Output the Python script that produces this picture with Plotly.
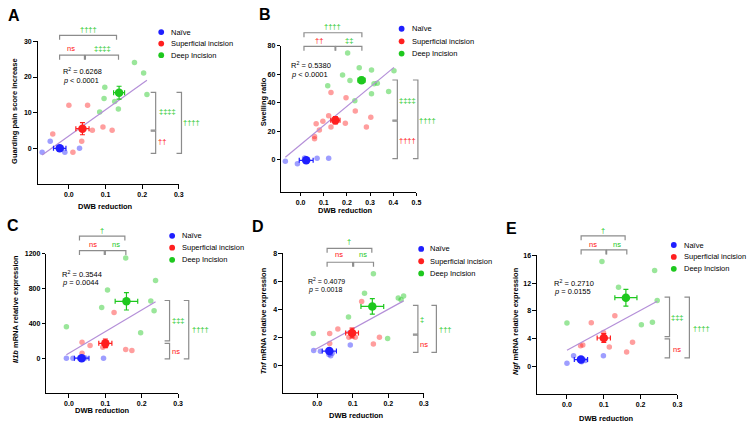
import numpy as np
import plotly.graph_objects as go

W, H = 753, 424

# ---------------- data ----------------
GROUP_NAMES = ["Naïve", "Superficial incision", "Deep Incision"]

# Panel A: guarding pain score increase vs DWB reduction
A_NAIVE_X = [-0.073, -0.051, -0.011, 0.029, -0.020]
A_NAIVE_Y = [-1.1, 2.0, -1.1, 0.0, 0.0]
A_SUP_X = [-0.044, 0.0, 0.011, 0.035, 0.051, 0.064, 0.093, 0.118]
A_SUP_Y = [4.0, 12.1, -1.1, 2.0, 12.1, 5.1, 6.0, 5.1]
A_DEEP_X = [0.084, 0.096, 0.098, 0.125, 0.135, 0.179, 0.204, 0.213]
A_DEEP_Y = [10.2, 14.0, 17.1, 13.1, 11.0, 24.1, 21.1, 15.1]
A_MEAN_X = [-0.025, 0.037, 0.137]
A_MEAN_Y = [0.0, 5.5, 15.6]
A_ERR_X = [0.017, 0.018, 0.015]
A_ERR_Y = [0.4, 1.7, 1.8]

# Panel B: swelling ratio
B_NAIVE_X = [-0.066, -0.014, 0.017, 0.071, 0.121]
B_NAIVE_Y = [-1.2, -3.0, 1.2, 0.9, 0.9]
B_SUP_X = [0.131, 0.196, 0.121, 0.096, 0.067, 0.081, 0.060, 0.060, 0.131, 0.193, 0.236, 0.303, 0.284]
B_SUP_Y = [47.2, 43.5, 30.9, 27.0, 25.3, 20.9, 16.3, 14.7, 23.0, 25.6, 34.2, 29.8, 23.0]
B_DEEP_X = [0.203, 0.253, 0.181, 0.213, 0.117, 0.306, 0.403, 0.380, 0.306, 0.317, 0.331, 0.234]
B_DEEP_Y = [75.0, 64.7, 59.5, 55.6, 51.9, 63.0, 62.6, 47.9, 46.3, 53.3, 53.7, 41.4]
B_MEAN_X = [0.024, 0.150, 0.263]
B_MEAN_Y = [-0.5, 27.7, 55.8]
B_ERR_X = [0.030, 0.020, 0.015]
B_ERR_Y = [0.8, 2.5, 2.0]

# Panel C: Il1b mRNA
C_NAIVE_X = [-0.007, 0.011, 0.029, 0.045, 0.095]
C_NAIVE_Y = [0.8, 1.1, 0.9, 1.2, 1.0]
C_SUP_X = [0.036, 0.036, 0.058, 0.124, 0.093, 0.102, 0.156, 0.173]
C_SUP_Y = [183, 57, 145, 526, 126, 145, 99, 88]
C_DEEP_X = [-0.007, 0.090, 0.106, 0.156, 0.238, 0.225, 0.234, 0.197]
C_DEEP_Y = [362, 583, 785, 1154, 895, 659, 545, 293]
C_MEAN_X = [0.035, 0.100, 0.158]
C_MEAN_Y = [1, 171, 655]
C_ERR_X = [0.020, 0.018, 0.031]
C_ERR_Y = [5, 50, 100]

# Panel D: Tnf mRNA
D_NAIVE_X = [-0.010, 0.009, 0.033, 0.038, 0.042, 0.093]
D_NAIVE_Y = [1.04, 0.99, 0.75, 0.66, 0.85, 1.44]
D_SUP_X = [0.035, 0.035, 0.058, 0.125, 0.089, 0.107, 0.158, 0.175]
D_SUP_Y = [2.26, 1.55, 2.59, 4.56, 2.00, 2.00, 1.50, 2.00]
D_DEEP_X = [-0.011, 0.088, 0.133, 0.158, 0.198, 0.228, 0.236, 0.243]
D_DEEP_Y = [2.26, 3.44, 5.15, 6.54, 1.90, 4.80, 4.68, 4.94]
D_MEAN_X = [0.034, 0.098, 0.155]
D_MEAN_Y = [1.0, 2.3, 4.2]
D_ERR_X = [0.020, 0.018, 0.032]
D_ERR_Y = [0.10, 0.35, 0.55]

# Panel E: Ngf mRNA
E_NAIVE_X = [0.000, 0.018, 0.050, 0.099, 0.040]
E_NAIVE_Y = [0.47, 1.55, 0.85, 1.55, 0.70]
E_SUP_X = [0.043, 0.066, 0.099, 0.130, 0.115, 0.162, 0.178, 0.037]
E_SUP_Y = [3.1, 6.3, 4.9, 7.3, 2.8, 2.1, 3.5, 3.0]
E_DEEP_X = [0.000, 0.095, 0.140, 0.202, 0.232, 0.238, 0.245, 0.160]
E_DEEP_Y = [6.25, 15.1, 11.4, 6.0, 6.35, 13.8, 9.5, 10.0]
E_MEAN_X = [0.038, 0.100, 0.160]
E_MEAN_Y = [1.0, 4.1, 9.9]
E_ERR_X = [0.018, 0.018, 0.030]
E_ERR_Y = [0.10, 0.65, 1.20]

X_TICKS_3 = [0.0, 0.1, 0.2, 0.3]
X_TICKS_5 = [0.0, 0.1, 0.2, 0.3, 0.4, 0.5]
A_Y_TICKS = [0, 10, 20, 30]
B_Y_TICKS = [0, 20, 40, 60, 80]
C_Y_TICKS = [0, 400, 800, 1200]
D_Y_TICKS = [0, 2, 4, 6, 8]
E_Y_TICKS = [0, 4, 8, 12, 16]

R2_TEXT = ["0.6268", "0.5380", "0.3544", "0.4079", "0.2710"]
P_TEXT = ["&lt; 0.0001", "&lt; 0.0001", "= 0.0044", "= 0.0018", "= 0.0155"]

# ---------------- styles ----------------
FONT = "Liberation Sans, Arial, sans-serif"
SOLID = ["#1f1fff", "#ff1f1f", "#1ec81e"]
LIGHT = ["rgba(40,40,255,0.45)", "rgba(255,40,40,0.45)", "rgba(30,200,30,0.45)"]
GREEN_T = "#1ec81e"
RED_T = "#ff1010"
LINE_C = "#b48fd8"
BR_C = "#8c8c8c"


def fx(p):
    return p / W


def fy(p):
    return 1 - p / H


# panel layout (pixels) -----------------------------------------------------
panels = [
    dict(letter="A", pts=[(A_NAIVE_X, A_NAIVE_Y), (A_SUP_X, A_SUP_Y), (A_DEEP_X, A_DEEP_Y)],
         mx=A_MEAN_X, my=A_MEAN_Y, ex=A_ERR_X, ey=A_ERR_Y,
         dom_x=(38, 180), dom_y=(37.7, 181.7), xr=[-0.085, 0.3], yr=[-10, 30],
         xt=X_TICKS_3, yt=A_Y_TICKS,
         ytitle="Guarding pain score increase", ytp=(15, 108), xtp=(106, 204.5),
         letter_pos=(14, 12), leg=(162.3, 170, [28.3, 40, 51.7]), r2=(61.7, 67.6, 76.8), r2f=7.3,
         top=[(60, 117.3, 31.7, "††††", GREEN_T, 89.3, 26), (60, 85, 51.7, "ns", RED_T, 71.7, 45),
              (86, 119.3, 51.7, "‡‡‡‡", GREEN_T, 103.3, 45)],
         right=[(156.7, 89.3, 127.3, "‡‡‡‡", GREEN_T, 168.3, 108.3), (156.7, 128.3, 150.7, "††", RED_T, 163.3, 139.3),
                (182.7, 89.3, 150.7, "††††", GREEN_T, 192.7, 120)]),
    dict(letter="B", pts=[(B_NAIVE_X, B_NAIVE_Y), (B_SUP_X, B_SUP_Y), (B_DEEP_X, B_DEEP_Y)],
         mx=B_MEAN_X, my=B_MEAN_Y, ex=B_ERR_X, ey=B_ERR_Y,
         dom_x=(283.3, 419.2), dom_y=(42.3, 189.5), xr=[-0.083, 0.5], yr=[-22.6, 80],
         xt=X_TICKS_5, yt=B_Y_TICKS,
         ytitle="Swelling ratio", ytp=(265, 99), xtp=(348, 208.5),
         letter_pos=(267, 11), leg=(404.3, 412.3, [25, 37.7, 50]), r2=(290.7, 61.5, 70.9), r2f=7.5,
         top=[(306, 364.3, 29, "††††", GREEN_T, 335, 22.7), (306, 337.3, 42.7, "††", RED_T, 321, 36.7),
              (338, 364.3, 42.7, "‡‡", GREEN_T, 351.7, 36.7)],
         right=[(400, 76.7, 117.3, "‡‡‡‡", GREEN_T, 410, 97.7), (400, 118.3, 156, "††††", RED_T, 410, 138.3),
                (420.7, 76.7, 156, "††††", GREEN_T, 430, 117.3)]),
    dict(letter="C", pts=[(C_NAIVE_X, C_NAIVE_Y), (C_SUP_X, C_SUP_Y), (C_DEEP_X, C_DEEP_Y)],
         mx=C_MEAN_X, my=C_MEAN_Y, ex=C_ERR_X, ey=C_ERR_Y,
         dom_x=(46.7, 179.3), dom_y=(252.3, 392.7), xr=[-0.062, 0.3], yr=[-400, 1200],
         xt=X_TICKS_3, yt=C_Y_TICKS,
         ytitle="<i>Il1b</i> mRNA relative expression", ytp=(15, 308), xtp=(103.3, 410.5),
         letter_pos=(13, 224), leg=(173.3, 181.7, [234, 246, 258.3]), r2=(60.7, 272.5, 281.3), r2f=7.5,
         top=[(80, 125.7, 234.3, "†", GREEN_T, 102.7, 228.3), (80, 105, 249, "ns", RED_T, 93.3, 242.3),
              (106, 126.7, 249, "ns", GREEN_T, 116.7, 242.3)],
         right=[(170.7, 299.3, 340, "‡‡‡", GREEN_T, 179.3, 319.3), (170.7, 342.7, 358.3, "ns", RED_T, 177.3, 351.3),
                (190, 299.3, 358.3, "††††", GREEN_T, 201.7, 329)]),
    dict(letter="D", pts=[(D_NAIVE_X, D_NAIVE_Y), (D_SUP_X, D_SUP_Y), (D_DEEP_X, D_DEEP_Y)],
         mx=D_MEAN_X, my=D_MEAN_Y, ex=D_ERR_X, ey=D_ERR_Y,
         dom_x=(285, 426.7), dom_y=(251.7, 392.7), xr=[-0.096, 0.3], yr=[-2, 8],
         xt=X_TICKS_3, yt=D_Y_TICKS,
         ytitle="<i>Tnf</i> mRNA relative expression", ytp=(266, 320), xtp=(359, 415.5),
         letter_pos=(260, 225), leg=(424, 431, [247.3, 259.7, 272]), r2=(308.3, 280, 288.3), r2f=7,
         top=[(329.3, 374.3, 246.7, "†", GREEN_T, 351.7, 240), (329.3, 355, 260.7, "ns", RED_T, 341.7, 253.3),
              (356, 376, 260.7, "ns", GREEN_T, 365.7, 253.3)],
         right=[(420.7, 304.3, 333.3, "‡", GREEN_T, 424.5, 319), (420.7, 334.3, 351.7, "ns", RED_T, 426.7, 344),
                (439.3, 304.3, 351.7, "†††", GREEN_T, 448.3, 328.3)]),
    dict(letter="E", pts=[(E_NAIVE_X, E_NAIVE_Y), (E_SUP_X, E_SUP_Y), (E_DEEP_X, E_DEEP_Y)],
         mx=E_MEAN_X, my=E_MEAN_Y, ex=E_ERR_X, ey=E_ERR_Y,
         dom_x=(540.7, 682), dom_y=(253.7, 394), xr=[-0.081, 0.3], yr=[-4, 16],
         xt=X_TICKS_3, yt=E_Y_TICKS,
         ytitle="<i>Ngf</i> mRNA relative expression", ytp=(519.5, 320), xtp=(611, 418.5),
         letter_pos=(515, 227), leg=(678.3, 686.7, [243.3, 255.3, 267.3]), r2=(556, 281.5, 290.3), r2f=7.5,
         top=[(585, 629.3, 234, "†", GREEN_T, 607.3, 228.3), (585, 610, 248.3, "ns", RED_T, 596.7, 242.3),
              (610.7, 631, 248.3, "ns", GREEN_T, 620.7, 242.3)],
         right=[(674, 296, 335.7, "‡‡‡", GREEN_T, 682.3, 316), (674, 338, 357.3, "ns", RED_T, 681.7, 348.7),
                (694, 296, 357.3, "††††", GREEN_T, 706, 327.3)]),
]

fig = go.Figure()
shapes = []
annotations = []
layout_axes = {}

for i, P in enumerate(panels):
    n = "" if i == 0 else str(i + 1)
    xa, ya = "x" + n, "y" + n

    # individual points
    for g in range(3):
        xs, ys = P["pts"][g]
        fig.add_trace(go.Scatter(x=xs, y=ys, mode="markers", xaxis=xa, yaxis=ya,
                                 marker=dict(size=5.5, color=LIGHT[g], line=dict(width=0)),
                                 showlegend=False, cliponaxis=False, hoverinfo="skip"))
    # linear regression over all points
    allx = np.concatenate([np.asarray(p[0], float) for p in P["pts"]])
    ally = np.concatenate([np.asarray(p[1], float) for p in P["pts"]])
    k, b = np.polyfit(allx, ally, 1)
    xl = np.array([allx.min(), allx.max()])
    fig.add_trace(go.Scatter(x=xl, y=k * xl + b, mode="lines", xaxis=xa, yaxis=ya,
                             line=dict(color=LINE_C, width=1.2), showlegend=False, hoverinfo="skip"))
    # group means with SEM error bars
    for g in range(3):
        fig.add_trace(go.Scatter(
            x=[P["mx"][g]], y=[P["my"][g]], mode="markers", xaxis=xa, yaxis=ya,
            marker=dict(size=8.5, color=SOLID[g], line=dict(width=0)),
            error_x=dict(type="data", array=[P["ex"][g]], color=SOLID[g], thickness=1.2, width=2.5),
            error_y=dict(type="data", array=[P["ey"][g]], color=SOLID[g], thickness=1.2, width=2.5),
            showlegend=False, cliponaxis=False))

    axfont = dict(family=FONT, size=7, color="black", weight="bold")
    layout_axes["xaxis" + n] = dict(
        domain=[fx(P["dom_x"][0]), fx(P["dom_x"][1])], range=P["xr"], anchor=ya,
        tickvals=P["xt"], ticktext=["%.1f" % t for t in P["xt"]],
        showline=True, linecolor="black", linewidth=1.3, ticks="outside", ticklen=3.5,
        tickwidth=1.2, tickcolor="black", tickfont=axfont, showgrid=False, zeroline=False,
        fixedrange=True)
    layout_axes["yaxis" + n] = dict(
        domain=[fy(P["dom_y"][1]), fy(P["dom_y"][0])], range=P["yr"], anchor=xa,
        tickvals=P["yt"], ticktext=[str(t) for t in P["yt"]],
        showline=True, linecolor="black", linewidth=1.3, ticks="outside", ticklen=3.5,
        tickwidth=1.2, tickcolor="black", tickfont=axfont, showgrid=False, zeroline=False,
        fixedrange=True)

    # axis titles
    annotations.append(dict(text="<b>%s</b>" % P["ytitle"], x=fx(P["ytp"][0]), y=fy(P["ytp"][1]),
                            xref="paper", yref="paper", showarrow=False, textangle=-90,
                            font=dict(family=FONT, size=7.5, color="black"),
                            xanchor="center", yanchor="middle"))
    annotations.append(dict(text="<b>DWB reduction</b>", x=fx(P["xtp"][0]), y=fy(P["xtp"][1]),
                            xref="paper", yref="paper", showarrow=False,
                            font=dict(family=FONT, size=7.5, color="black"),
                            xanchor="center", yanchor="middle"))
    # panel letter
    annotations.append(dict(text="<b>%s</b>" % P["letter"], x=fx(P["letter_pos"][0]), y=fy(P["letter_pos"][1]),
                            xref="paper", yref="paper", showarrow=False,
                            font=dict(family=FONT, size=16, color="black"),
                            xanchor="center", yanchor="middle"))
    # R^2 and p
    rx, ry1, ry2 = P["r2"]
    annotations.append(dict(text="R<sup>2</sup> = %s" % R2_TEXT[i], x=fx(rx), y=fy(ry1),
                            xref="paper", yref="paper", showarrow=False,
                            font=dict(family=FONT, size=P["r2f"], color="black"),
                            xanchor="left", yanchor="middle"))
    annotations.append(dict(text="<i>p</i> %s" % P_TEXT[i], x=fx(rx), y=fy(ry2),
                            xref="paper", yref="paper", showarrow=False,
                            font=dict(family=FONT, size=P["r2f"], color="black"),
                            xanchor="left", yanchor="middle"))
    # legend
    dx, tx, rows = P["leg"]
    for g in range(3):
        shapes.append(dict(type="circle", xref="paper", yref="paper", xsizemode="pixel", ysizemode="pixel",
                           xanchor=fx(dx), yanchor=fy(rows[g]), x0=-2.9, x1=2.9, y0=-2.9, y1=2.9,
                           fillcolor=SOLID[g], line=dict(width=0)))
        annotations.append(dict(text=GROUP_NAMES[g], x=fx(tx), y=fy(rows[g]), xref="paper", yref="paper",
                                showarrow=False, font=dict(family=FONT, size=7.5, color="black"),
                                xanchor="left", yanchor="middle"))
    # comparison brackets (top)
    d = 4.5
    for (x0, x1, yy, lab, col, lx, ly) in P["top"]:
        path = "M %f,%f L %f,%f L %f,%f L %f,%f" % (fx(x0), fy(yy + d), fx(x0), fy(yy), fx(x1), fy(yy),
                                                    fx(x1), fy(yy + d))
        shapes.append(dict(type="path", path=path, xref="paper", yref="paper",
                           line=dict(color=BR_C, width=1.2)))
        annotations.append(dict(text=lab, x=fx(lx), y=fy(ly), xref="paper", yref="paper", showarrow=False,
                                font=dict(family=FONT, size=7.5, color=col), xanchor="center", yanchor="middle"))
    # comparison brackets (right)
    s = 5
    for (xx, y0, y1, lab, col, lx, ly) in P["right"]:
        path = "M %f,%f L %f,%f L %f,%f L %f,%f" % (fx(xx - s), fy(y0), fx(xx), fy(y0), fx(xx), fy(y1),
                                                    fx(xx - s), fy(y1))
        shapes.append(dict(type="path", path=path, xref="paper", yref="paper",
                           line=dict(color=BR_C, width=1.2)))
        annotations.append(dict(text=lab, x=fx(lx), y=fy(ly), xref="paper", yref="paper", showarrow=False,
                                font=dict(family=FONT, size=7.5, color=col), xanchor="center", yanchor="middle"))

fig.update_layout(
    width=W, height=H, margin=dict(l=0, r=0, t=0, b=0),
    paper_bgcolor="white", plot_bgcolor="white", showlegend=False,
    shapes=shapes, annotations=annotations, **layout_axes)

fig.write_html("out.html", config={"displayModeBar": False},
               post_script="document.body.style.margin='0';document.body.style.overflow='hidden';")
